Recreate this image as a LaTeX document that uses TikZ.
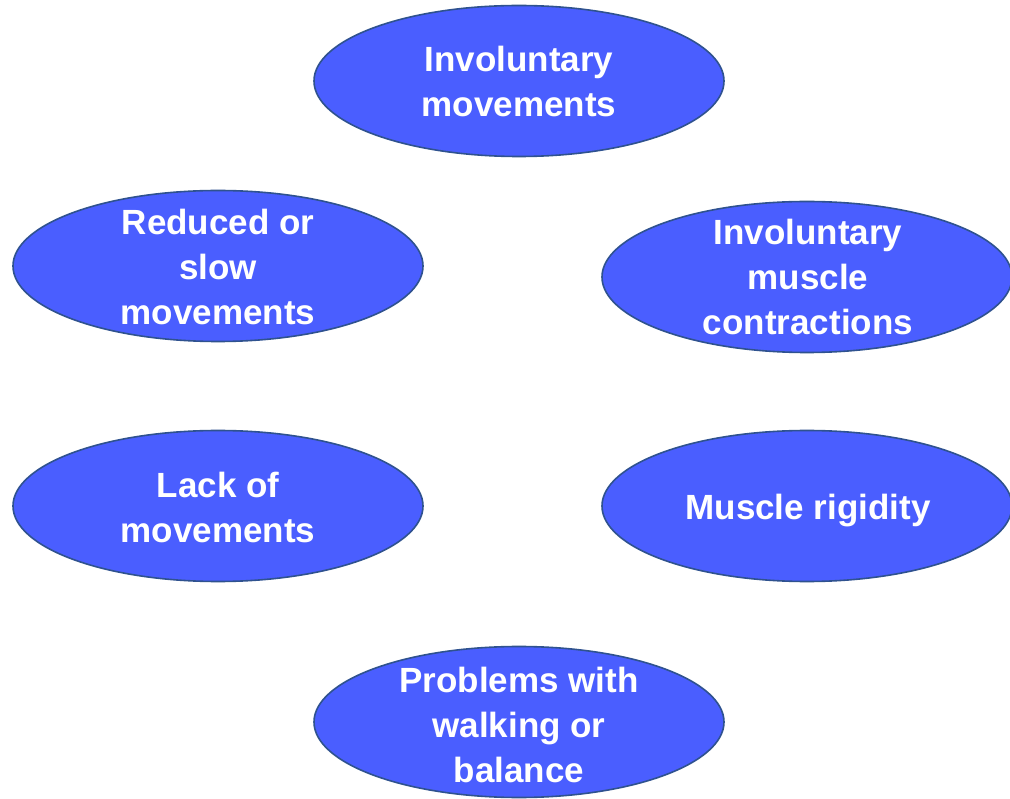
\documentclass[tikz,border=0pt]{standalone}
\usepackage{fontspec}
\setmainfont{Liberation Sans}
\usetikzlibrary{shapes.geometric}
\definecolor{ellfill}{HTML}{4A5EFF}
\definecolor{elldraw}{HTML}{2F528F}
\tikzset{
  symptom/.style={ellipse, draw=elldraw, fill=ellfill, line width=1.6pt,
    minimum width=410pt, minimum height=151pt, inner sep=0pt},
  symtext/.style={anchor=base, inner sep=0pt, text=white, align=center,
    font=\fontsize{35}{45}\selectfont\bfseries}
}
\begin{document}
\begin{tikzpicture}[x=1pt,y=-1pt]
\useasboundingbox (0,0) rectangle (1010,799);
\fill[white] (0,0) rectangle (1010,799);
\node[symptom] (top) at (519,81) {};
\node[symptom] (lu) at (218,266) {};
\node[symptom] (ru) at (807,277) {};
\node[symptom] (ll) at (218,506) {};
\node[symptom] (rl) at (807,506) {};
\node[symptom] (bot) at (519,722) {};
\node[symtext] (topt) at (519,117) {Involuntary\\movements};
\node[symtext] (lut) at (218,325) {Reduced or\\slow\\movements};
\node[symtext] (rut) at (808,335) {Involuntary\\muscle\\contractions};
\node[symtext] (llt) at (218,542) {Lack of\\movements};
\node[symtext] (rlt) at (808,520) {Muscle rigidity};
\node[symtext] (bott) at (519,782) {Problems with\\walking or\\balance};
\end{tikzpicture}
\end{document}
